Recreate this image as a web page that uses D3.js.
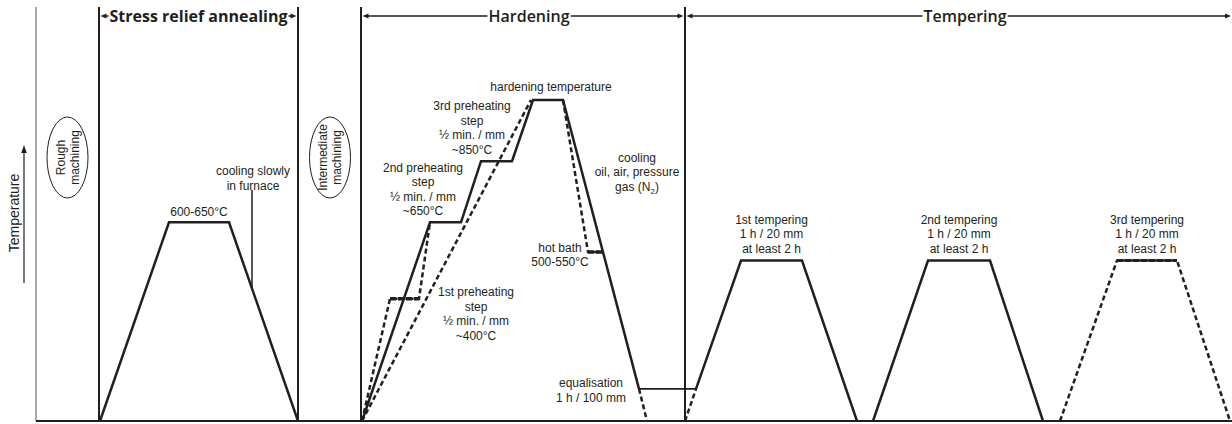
<!DOCTYPE html>
<html>
<head>
<meta charset="utf-8">
<script src="https://cdn.jsdelivr.net/npm/d3@7"></script>
<style>
body { margin: 0; background: #fff; }
svg { display: block; }
text { font-family: "Liberation Sans", Arial, sans-serif; fill: #231f20; }
</style>
</head>
<body>
<div id="chart"></div>
<script>

// time in arbitrary units, temperature in °C
var phaseNames = ["Stress relief annealing", "Hardening", "Tempering"];
var phaseEdges = [6.3, 26.2, 32.5, 64.9];
var axisStart = 0;

var stressRelief = [[6.4, 0], [13.3, 650], [19.3, 650], [26.2, 0]];
var hardenSolid = [[32.6, 0], [39.4, 650], [42.5, 650], [44.5, 850], [47.6, 850],
                   [49.7, 1050], [52.7, 1050], [60.3, 105]];
var equalisation = [[60.3, 105], [66.0, 105]];
var preheatAlt = [[32.6, 0], [35.4, 400], [38.3, 400], [39.4, 650]];
var preheatAltStep = [[35.4, 400], [38.3, 400]];
var preheatDirect = [[32.6, 0], [49.5, 1050]];
var hotBath = [[52.7, 1050], [55.2, 553], [56.7, 553]];
var hotBathStep = [[55.2, 553], [56.7, 553]];
var quenchTail = [[60.3, 105], [61.1, 0]];
var temper1Start = [[64.9, 0], [66.0, 105]];
var temper1 = [[66.0, 105], [70.5, 525], [76.6, 525], [82.1, 0]];
var temper2 = [[83.7, 0], [89.2, 525], [95.4, 525], [100.7, 0]];
var temper3 = [[102.4, 0], [108.1, 525], [114.1, 525], [119.4, 0]];

var axisLabel = "Temperature";
var machining = [["Rough", "machining"], ["Intermediate", "machining"]];
var machiningTimes = [3.15, 29.4];

var stressLabel = ["600-650°C"];
var slowCoolLabel = ["cooling slowly", "in furnace"];
var slowCoolTime = 21.6;
var hardenLabel = ["hardening temperature"];
var preheat3Label = ["3rd preheating", "step", "½ min. / mm", "~850°C"];
var preheat2Label = ["2nd preheating", "step", "½ min. / mm", "~650°C"];
var preheat1Label = ["1st preheating", "step", "½ min. / mm", "~400°C"];
var coolingLabel = ["cooling", "oil, air, pressure", "gas (N|2|)"];
var hotBathLabel = ["hot bath", "500-550°C"];
var equalLabel = ["equalisation", "1 h / 100 mm"];
var temperLabels = [["1st tempering", "1 h / 20 mm", "at least 2 h"],
                    ["2nd tempering", "1 h / 20 mm", "at least 2 h"],
                    ["3rd tempering", "1 h / 20 mm", "at least 2 h"]];

var w = 1232, h = 424;
var ink = "#231f20";
var topY = 7;

var svg = d3.select("#chart").append("svg")
  .attr("width", w)
  .attr("height", h);

var x = d3.scaleLinear().domain([0, 120]).range([36, 1236]);
var y = d3.scaleLinear().domain([0, 1050]).range([421, 100]);

var line = d3.line()
  .x(function(d) { return x(d[0]); })
  .y(function(d) { return y(d[1]); });

//frame: thin start line, phase separators, base line
svg.append("line")
  .attr("x1", x(axisStart)).attr("x2", x(axisStart))
  .attr("y1", topY).attr("y2", y(0))
  .attr("stroke", "#555").attr("stroke-width", 1);

svg.selectAll("line.sep")
  .data(phaseEdges)
  .enter()
  .append("line")
  .attr("class", "sep")
  .attr("x1", function(d) { return x(d); })
  .attr("x2", function(d) { return x(d); })
  .attr("y1", topY)
  .attr("y2", y(0))
  .attr("stroke", ink)
  .attr("stroke-width", 2);

svg.append("line")
  .attr("x1", x(axisStart)).attr("x2", w)
  .attr("y1", y(0)).attr("y2", y(0))
  .attr("stroke", ink).attr("stroke-width", 2);

function arrowHead(xTip, yy, dir) {
  var l = 6, hw = 2.5;
  svg.append("path")
    .attr("d", "M" + xTip + "," + yy + "L" + (xTip - dir * l) + "," + (yy - hw) +
               "L" + (xTip - dir * l) + "," + (yy + hw) + "Z")
    .attr("fill", ink);
}

//phase headers with double arrows
var headers = [
  {x0: x(phaseEdges[0]) + 1.5, x1: x(phaseEdges[1]) - 1.5, cx: 198.5, weight: 700},
  {x0: x(phaseEdges[2]) + 1.5, x1: x(phaseEdges[3]) - 1.5, cx: 529, weight: 600},
  {x0: x(phaseEdges[3]) + 1.5, x1: w - 1, cx: 965, weight: 600}
];
var headY = 16;
headers.forEach(function(hd, i) {
  svg.append("line")
    .attr("x1", hd.x0 + 3).attr("x2", hd.x1 - 3)
    .attr("y1", headY).attr("y2", headY)
    .attr("stroke", ink).attr("stroke-width", 1.5);
  arrowHead(hd.x0, headY, -1);
  arrowHead(hd.x1, headY, 1);
  var bg = svg.append("rect").attr("fill", "#fff");
  var txt = svg.append("text")
    .attr("x", hd.cx)
    .attr("y", headY + 5.5)
    .attr("text-anchor", "middle")
    .style("font-family", "'Open Sans', sans-serif")
    .style("font-size", "16px")
    .style("font-weight", hd.weight)
    .text(phaseNames[i]);
  var bb = txt.node().getBBox();
  bg.attr("x", bb.x - 1).attr("y", headY - 3).attr("width", bb.width + 2).attr("height", 6);
});

//temperature arrow
svg.append("line")
  .attr("x1", 24).attr("x2", 24)
  .attr("y1", 283).attr("y2", 152)
  .attr("stroke", ink).attr("stroke-width", 1.2);
svg.append("path")
  .attr("d", "M24,145L21.2,153L26.8,153Z")
  .attr("fill", ink);
svg.append("text")
  .attr("transform", "translate(19,213)rotate(-90)")
  .attr("text-anchor", "middle")
  .style("font-size", "14px")
  .text(axisLabel);

//machining ellipses
machining.forEach(function(lines, i) {
  var cx = x(machiningTimes[i]), cy = 157.5;
  svg.append("ellipse")
    .attr("cx", cx).attr("cy", cy)
    .attr("rx", 20.5).attr("ry", 40.5)
    .attr("fill", "none").attr("stroke", ink).attr("stroke-width", 1);
  var g = svg.append("g").attr("transform", "translate(" + cx + "," + cy + ")rotate(-90)");
  lines.forEach(function(t, j) {
    g.append("text")
      .attr("x", 0)
      .attr("y", (j === 0 ? -7 : 7) + 4.3)
      .attr("text-anchor", "middle")
      .style("font-size", "12px")
      .text(t);
  });
});

//curves
function solid(data, width) {
  svg.append("path")
    .datum(data)
    .attr("d", line)
    .attr("fill", "none")
    .attr("stroke", ink)
    .attr("stroke-width", width || 2.5)
    .attr("stroke-linejoin", "miter");
}
function dashed(data, width, dash) {
  svg.append("path")
    .datum(data)
    .attr("d", line)
    .attr("fill", "none")
    .attr("stroke", ink)
    .attr("stroke-width", width || 2.5)
    .attr("stroke-dasharray", dash || "5,3");
}

solid(stressRelief);
dashed(preheatAlt);
dashed(preheatAltStep, 3.5, "6,2");
dashed(preheatDirect);
dashed(hotBath);
dashed(hotBathStep, 3.5, "6,2");
solid(hardenSolid);
solid(equalisation, 1.8);
dashed(quenchTail);
dashed(temper1Start);
solid(temper1);
solid(temper2);
dashed(temper3);
dashed([temper3[1], temper3[2]], 3.2, "6,2");

//slow cooling leader
var leadX = x(slowCoolTime);
var t0 = stressRelief[2], t1 = stressRelief[3];
var leadTemp = t0[1] + (t1[1] - t0[1]) * (slowCoolTime - t0[0]) / (t1[0] - t0[0]);
svg.append("line")
  .attr("x1", leadX).attr("x2", leadX)
  .attr("y1", 190).attr("y2", y(leadTemp))
  .attr("stroke", ink).attr("stroke-width", 1.5);

//annotations
var lh = 14.4;
function block(lines, cx, cy) {
  lines.forEach(function(t, j) {
    var txt = svg.append("text")
      .attr("x", cx)
      .attr("y", cy + j * lh + 4.3)
      .attr("text-anchor", "middle")
      .style("font-size", "12px");
    var parts = t.split("|");
    if (parts.length === 1) {
      txt.text(t);
    } else {
      txt.append("tspan").text(parts[0]);
      txt.append("tspan").attr("dy", 3).style("font-size", "8px").text(parts[1]);
      txt.append("tspan").attr("dy", -3).text(parts[2]);
    }
  });
}

block(stressLabel, x((stressRelief[1][0] + stressRelief[2][0]) / 2), y(650) - 11);
block(slowCoolLabel, leadX + 1, 171);
block(hardenLabel, 551, 87);
block(preheat3Label, 472, 106);
block(preheat2Label, 423, 167.5);
block(preheat1Label, 476, 292);
block(coolingLabel, 637, 157.5);
block(hotBathLabel, 560, 247.5);
block(equalLabel, 591, 383);

[temper1, temper2, temper3].forEach(function(tp, i) {
  var cx = x((tp[tp.length - 3][0] + tp[tp.length - 2][0]) / 2);
  block(temperLabels[i], cx, y(525) - 41);
});

</script>
</body>
</html>
